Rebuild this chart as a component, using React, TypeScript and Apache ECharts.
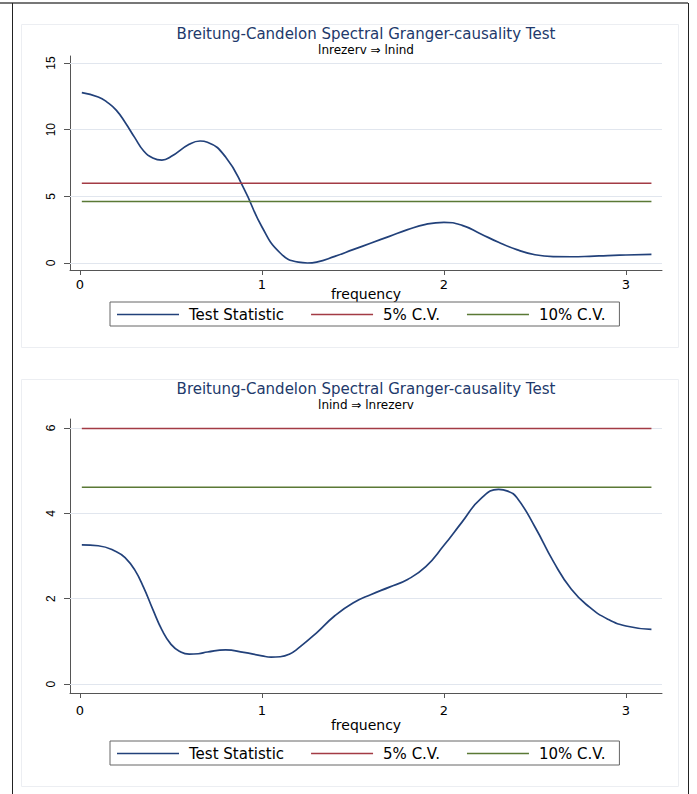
import React, { useEffect, useRef } from "react";
import * as echarts from "echarts";

// ---- Data ----
const titleText = "Breitung-Candelon Spectral Granger-causality Test";
const subTop = "lnrezerv ⇒ lnind";
const subBot = "lnind ⇒ lnrezerv";
const legendNames = ["Test Statistic", "5% C.V.", "10% C.V."];

const freqTop = [0.01, 0.1, 0.15, 0.2, 0.25, 0.3, 0.35, 0.4, 0.45, 0.5, 0.6, 0.66, 0.7, 0.8, 0.9, 1.0, 1.1, 1.2, 1.25, 1.3, 1.4, 1.5, 1.6, 1.7, 1.8, 1.9, 2.0, 2.1, 2.2, 2.3, 2.4, 2.5, 2.6, 2.7, 2.8, 2.9, 3.0, 3.14];
const statTop = [12.78, 12.45, 12.05, 11.45, 10.5, 9.42, 8.4, 7.88, 7.72, 7.98, 8.9, 9.15, 9.06, 7.95, 5.6, 2.7, 0.75, 0.06, 0.0, 0.07, 0.5, 1.0, 1.5, 2.0, 2.5, 2.9, 3.05, 2.82, 2.2, 1.55, 1.0, 0.62, 0.48, 0.47, 0.5, 0.56, 0.6, 0.65];

const freqBot = [0.01, 0.1, 0.2, 0.25, 0.3, 0.35, 0.4, 0.45, 0.5, 0.55, 0.6, 0.65, 0.7, 0.8, 0.9, 1.0, 1.05, 1.1, 1.15, 1.2, 1.3, 1.4, 1.5, 1.6, 1.7, 1.8, 1.9, 2.0, 2.1, 2.2, 2.3, 2.35, 2.4, 2.5, 2.6, 2.7, 2.8, 2.9, 3.0, 3.14];
const statBot = [3.26, 3.24, 3.1, 2.95, 2.68, 2.26, 1.75, 1.27, 0.93, 0.76, 0.7, 0.71, 0.75, 0.8, 0.74, 0.66, 0.63, 0.64, 0.7, 0.84, 1.2, 1.6, 1.9, 2.1, 2.27, 2.45, 2.75, 3.25, 3.8, 4.33, 4.56, 4.52, 4.37, 3.68, 2.88, 2.22, 1.8, 1.52, 1.36, 1.28];

const cv5 = 5.99;
const cv10 = 4.61;
const freqRange = [0.01, 3.14];

const xTicks = [0, 1, 2, 3];
const yTicksTop = [0, 5, 10, 15];
const yTicksBot = [0, 2, 4, 6];

const C_STAT = "#22417a";
const C_CV5 = "#a33b44";
const C_CV10 = "#5a7935";
const FONT = "DejaVu Sans";

function pairs(xs: number[], ys: number[]) {
  return xs.map((x, i) => [x, ys[i]]);
}

export default function App() {
  const ref = useRef<HTMLDivElement>(null);
  useEffect(() => {
    document.body.style.margin = "0";
    const chart = echarts.init(ref.current!, null, { renderer: "svg" });

    const xAxisBase = (gridIndex: number, labelMargin: number, nameGap: number) => ({
      type: "value",
      gridIndex,
      min: -0.055,
      max: 3.198,
      axisLine: { show: true, onZero: false, lineStyle: { color: "#555", width: 1 } },
      axisTick: { show: true, customValues: xTicks, length: 5, lineStyle: { color: "#555" } },
      axisLabel: { customValues: xTicks, margin: labelMargin, fontSize: 13, color: "#000", fontFamily: FONT },
      splitLine: { show: false },
      name: "frequency",
      nameLocation: "middle",
      nameGap,
      nameMoveOverlap: false,
      nameTextStyle: { fontSize: 14, color: "#000", fontFamily: FONT },
    });
    const yAxisBase = (gridIndex: number, min: number, max: number, ticks: number[]) => ({
      type: "value",
      gridIndex,
      min,
      max,
      axisLine: { show: true, onZero: false, lineStyle: { color: "#555", width: 1 } },
      axisTick: { show: true, customValues: ticks, length: 6, lineStyle: { color: "#555" } },
      axisLabel: { customValues: ticks, rotate: 90, margin: 13, fontSize: 12, color: "#000", fontFamily: "Liberation Sans" },
      splitLine: { show: false },
    });

    const gridLines = (ticks: number[]) => ({
      silent: true,
      z: 1,
      symbol: "none",
      label: { show: false },
      emphasis: { disabled: true },
      lineStyle: { color: "#e1e6ee", width: 1, type: "solid" },
      data: ticks.map((t) => ({ yAxis: t })),
    });

    const seriesFor = (idx: number, fx: number[], fy: number[], ticks: number[]) => [
      {
        name: "grid" + idx,
        type: "line",
        xAxisIndex: idx,
        yAxisIndex: idx,
        z: 1,
        data: [],
        symbol: "none",
        markLine: gridLines(ticks),
      },
      {
        name: legendNames[0],
        type: "line",
        xAxisIndex: idx,
        yAxisIndex: idx,
        z: 3,
        data: pairs(fx, fy),
        smooth: 0.5,
        symbol: "none",
        lineStyle: { color: C_STAT, width: 1.7 },
        itemStyle: { color: C_STAT },
      },
      {
        name: legendNames[1],
        type: "line",
        xAxisIndex: idx,
        yAxisIndex: idx,
        z: 3,
        data: freqRange.map((f) => [f, cv5]),
        symbol: "none",
        lineStyle: { color: C_CV5, width: 1.5 },
        itemStyle: { color: C_CV5 },
      },
      {
        name: legendNames[2],
        type: "line",
        xAxisIndex: idx,
        yAxisIndex: idx,
        z: 3,
        data: freqRange.map((f) => [f, cv10]),
        symbol: "none",
        lineStyle: { color: C_CV10, width: 1.5 },
        itemStyle: { color: C_CV10 },
      },
    ];

    const legendBase = (top: number) => ({
      left: 110,
      top,
      orient: "horizontal",
      data: legendNames,
      icon: "rect",
      itemWidth: 62,
      itemHeight: 1.5,
      itemGap: 27,
      padding: [5, 14, 4, 7],
      borderColor: "#666",
      borderWidth: 1,
      selectedMode: false,
      textStyle: { fontSize: 15, color: "#000", fontFamily: FONT, padding: [0, 0, 0, 5] },
    });

    const titleBase = (top: number, sub: string) => ({
      text: titleText,
      subtext: sub,
      left: 366,
      textAlign: "center",
      top,
      padding: 0,
      itemGap: 3,
      textStyle: { fontSize: 15, fontWeight: "normal", color: "#22396b", fontFamily: FONT },
      subtextStyle: { fontSize: 12, color: "#000", fontFamily: FONT },
    });

    chart.setOption({
      animation: false,
      backgroundColor: "#fff",
      title: [titleBase(26, subTop), titleBase(381, subBot)],
      legend: [legendBase(302), legendBase(741)],
      grid: [
        { left: 70, top: 56, width: 592, height: 214, containLabel: false },
        { left: 70, top: 419, width: 592, height: 274, containLabel: false },
      ],
      xAxis: [xAxisBase(0, 8, 17), xAxisBase(1, 11, 25)],
      yAxis: [yAxisBase(0, -0.525, 15.525, yTicksTop), yAxisBase(1, -0.21, 6.21, yTicksBot)],
      series: [
        ...seriesFor(0, freqTop, statTop, yTicksTop),
        ...seriesFor(1, freqBot, statBot, yTicksBot),
      ],
      graphic: [
        { type: "line", z: -1, shape: { x1: 0, y1: 3, x2: 688, y2: 3 }, style: { stroke: "#777", lineWidth: 2 } },
        { type: "line", z: -1, shape: { x1: 12.5, y1: 3, x2: 12.5, y2: 794 }, style: { stroke: "#222", lineWidth: 1 } },
        { type: "line", z: -1, shape: { x1: 688.5, y1: 3, x2: 688.5, y2: 794 }, style: { stroke: "#222", lineWidth: 1 } },
        { type: "rect", z: -1, shape: { x: 21.5, y: 24.5, width: 657, height: 323 }, style: { fill: "none", stroke: "#eceef2", lineWidth: 1 } },
        { type: "rect", z: -1, shape: { x: 21.5, y: 379.5, width: 657, height: 407 }, style: { fill: "none", stroke: "#eceef2", lineWidth: 1 } },
      ],
    });
    return () => chart.dispose();
  }, []);
  return <div ref={ref} style={{ width: 697, height: 794 }} />;
}
